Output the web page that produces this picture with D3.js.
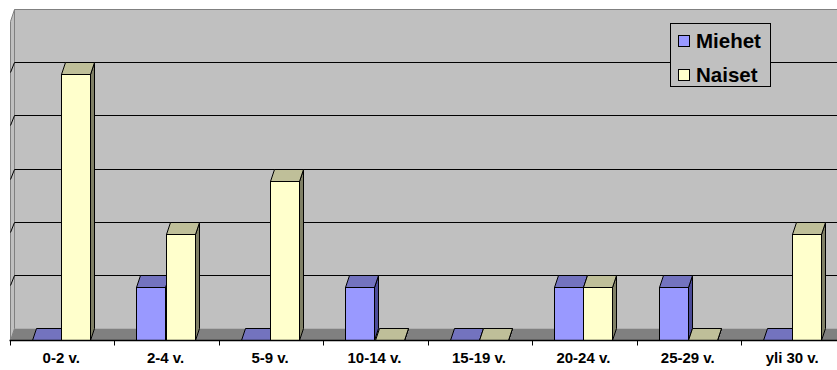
<!DOCTYPE html>
<html><head><meta charset="utf-8">
<script src="https://cdn.jsdelivr.net/npm/d3@7/dist/d3.min.js"></script>
<style>html,body{margin:0;padding:0;background:#fff;}svg{display:block;}</style>
</head><body>
<svg id="c" width="837" height="370"></svg>
<script>
const categories = ["0-2 v.","2-4 v.","5-9 v.","10-14 v.","15-19 v.","20-24 v.","25-29 v.","yli 30 v."];
const seriesNames = ["Miehet","Naiset"];
const miehet = [0,1,0,1,0,1,1,0];
const naiset = [5,2,3,0,0,1,0,2];
const yTicks = [0,1,2,3,4,5,6];

const colors = {
  Miehet: {front:"#9999FF", top:"#7373BF", side:"#4C4C99"},
  Naiset: {front:"#FFFFCC", top:"#BFBF99", side:"#808066"}
};

const svg = d3.select("#c");
const W = 837;
const dx = 4, dy = 12;
const x0 = d3.scaleBand().domain(categories).range([10, 10 + 8*104.43]).paddingInner(0).paddingOuter(0);
const x1 = d3.scaleBand().domain(seriesNames).range([0, x0.bandwidth()]).paddingInner(0).paddingOuter(0.79);
const yLin = d3.scaleLinear().domain([0,6]).range([328, 9]);
const yB = v => Math.round(yLin(v)) + 0.5;
const yF = v => yB(v) + dy;
const px = v => Math.round(v) + 0.5;
const floorF = yF(0), floorB = yB(0);
const left = px(x0.range()[0]);

// back wall
svg.append("rect").attr("x", left+dx).attr("y", yB(6)).attr("width", W).attr("height", floorB - yB(6))
  .attr("fill", "#C0C0C0");
svg.append("line").attr("x1", left+dx).attr("x2", W).attr("y1", yB(6)).attr("y2", yB(6))
  .attr("stroke", "#808080").attr("stroke-width", 1);
// left wall
svg.append("path").attr("d", `M${left},${floorF}L${left+dx},${floorB}L${left+dx},${yB(6)}L${left},${yF(6)}Z`)
  .attr("fill", "#C0C0C0").attr("stroke", "#808080").attr("stroke-width", 1);
// floor
svg.append("path").attr("d", `M${left},${floorF}L${left+dx},${floorB}L${W+10},${floorB}L${W+10},${floorF}Z`)
  .attr("fill", "#808080");

// gridlines
svg.append("g").selectAll("path").data(yTicks.filter(t => t > 0 && t < 6)).join("path")
  .attr("d", t => `M${left},${yF(t)-2}L${left+dx},${yB(t)}L${W},${yB(t)}`)
  .attr("fill", "none").attr("stroke", "#000").attr("stroke-width", 1);

// bars
const data = [];
categories.forEach((c, i) => {
  data.push({cat:c, s:"Miehet", v:miehet[i]});
  data.push({cat:c, s:"Naiset", v:naiset[i]});
});
const bars = svg.append("g").selectAll("g").data(data).join("g");
bars.each(function(d){
  const g = d3.select(this);
  const x = px(x0(d.cat) + x1(d.s) - 1);
  const w = Math.round(x1.bandwidth());
  const yt = yF(d.v);
  const col = colors[d.s];
  g.append("path").attr("d", `M${x+w},${yt}L${x+w+dx},${yt-dy}L${x+w+dx},${floorB}L${x+w},${floorF}Z`)
    .attr("fill", col.side).attr("stroke", "#000").attr("stroke-width", 1).attr("stroke-linejoin","round");
  g.append("path").attr("d", `M${x},${yt}L${x+dx},${yt-dy}L${x+w+dx},${yt-dy}L${x+w},${yt}Z`)
    .attr("fill", col.top).attr("stroke", "#000").attr("stroke-width", 1).attr("stroke-linejoin","round");
  if (d.v > 0) {
    g.append("rect").attr("x", x).attr("y", yt).attr("width", w).attr("height", floorF - yt)
      .attr("fill", col.front).attr("stroke", "#000").attr("stroke-width", 1);
  }
});

// x axis
svg.append("line").attr("x1", left-1).attr("x2", W).attr("y1", floorF).attr("y2", floorF)
  .attr("stroke", "#000").attr("stroke-width", 1.5);
const bounds = categories.map(c => px(x0(c)));
svg.append("g").selectAll("line").data(bounds).join("line")
  .attr("x1", d => d).attr("x2", d => d).attr("y1", floorF).attr("y2", floorF + 5)
  .attr("stroke", "#000").attr("stroke-width", 1);
svg.append("g").selectAll("text").data(categories).join("text")
  .attr("x", c => x0(c) + x0.bandwidth()/2 - 1)
  .attr("y", 363)
  .attr("text-anchor", "middle")
  .attr("font-family", "Liberation Sans, Arial, sans-serif")
  .attr("font-weight", "bold").attr("font-size", "15px")
  .text(c => c);

// legend
const lg = svg.append("g");
lg.append("rect").attr("x", 670.5).attr("y", 23.5).attr("width", 100).attr("height", 63)
  .attr("fill", "#C0C0C0").attr("stroke", "#000").attr("stroke-width", 1);
seriesNames.forEach((s, i) => {
  const yy = 35 + i*34;
  lg.append("rect").attr("x", 678.5).attr("y", yy+0.5).attr("width", 11).attr("height", 11)
    .attr("fill", colors[s].front).attr("stroke", "#000").attr("stroke-width", 1);
  lg.append("text").attr("x", 696).attr("y", yy + 13)
    .attr("font-family", "Liberation Sans, Arial, sans-serif")
    .attr("font-weight", "bold").attr("font-size", "20.5px")
    .text(s);
});
</script>
</body></html>
